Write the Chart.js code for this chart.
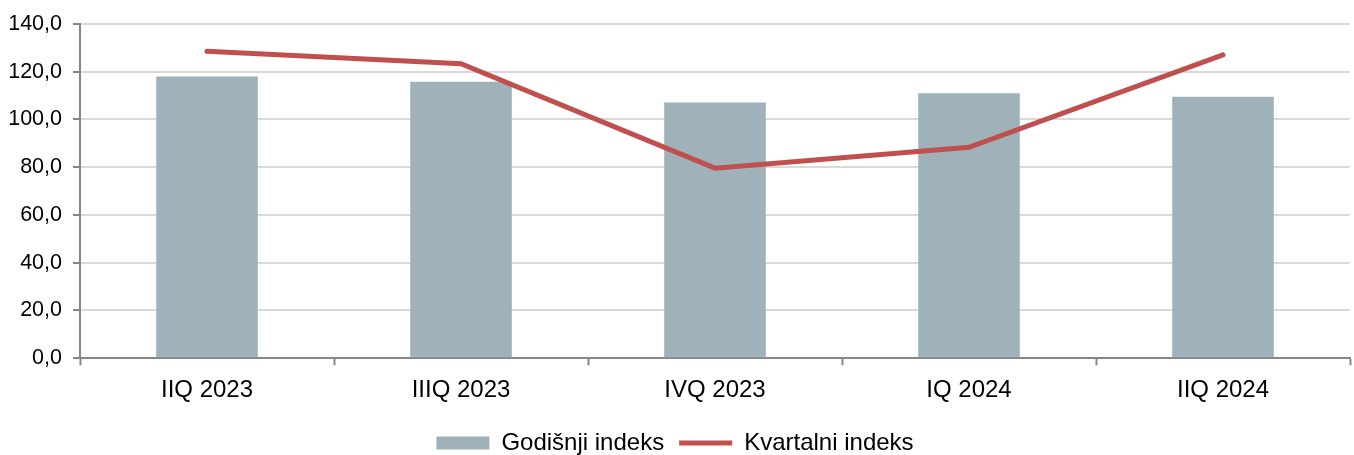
<!DOCTYPE html>
<html>
<head>
<meta charset="utf-8">
<script src="https://cdn.jsdelivr.net/npm/chart.js@4/dist/chart.umd.min.js"></script>
<style>
  html, body { margin: 0; padding: 0; background: #fff; }
  #wrap { width: 1354px; height: 455px; }
</style>
</head>
<body>
<div id="wrap"><canvas id="barChart"></canvas></div>
<script>
// values
const labels = ['IIQ 2023', 'IIIQ 2023', 'IVQ 2023', 'IQ 2024', 'IIQ 2024'];
const godisnji = [118.0, 115.8, 107.1, 111.0, 109.5];
const kvartalni = [128.5, 123.3, 79.6, 88.3, 127.0];
const yTicks = [0, 20, 40, 60, 80, 100, 120, 140];

const fontName = "'Liberation Sans', Arial, sans-serif";

const ctx = document.getElementById('barChart').getContext('2d');

const chart = new Chart(ctx, {
    type: 'bar',
    data: {
        labels: labels,
        datasets: [
            {
                type: 'line',
                label: 'Kvartalni indeks',
                data: kvartalni,
                borderColor: '#C0504D',
                backgroundColor: '#C0504D',
                borderWidth: 5,
                pointRadius: 0,
                borderCapStyle: 'round',
                borderJoinStyle: 'miter',
                order: 0
            },
            {
                label: 'Godišnji indeks',
                data: godisnji,
                backgroundColor: '#A0B2B9',
                categoryPercentage: 1,
                barPercentage: 0.4,
                order: 1
            }
        ]
    },
    options: {
        responsive: true,
        maintainAspectRatio: false,
        animation: false,
        layout: { padding: { left: 0, right: 4, top: 20, bottom: -10 } },
        plugins: {
            tooltip: { enabled: false },
            legend: {
                position: 'bottom',
                labels: {
                    usePointStyle: true,
                    pointStyleWidth: 53,
                    boxHeight: 13,
                    padding: 15,
                    color: '#000',
                    font: { family: fontName, size: 24 },
                    generateLabels: function(chart) {
                        // bar first, then line, as in the original legend
                        const ds = chart.data.datasets;
                        return [1, 0].map(function(i) {
                            return {
                                text: ds[i].label,
                                fillStyle: ds[i].backgroundColor,
                                strokeStyle: ds[i].type === 'line' ? ds[i].borderColor : ds[i].backgroundColor,
                                lineWidth: ds[i].type === 'line' ? 5 : 0,
                                lineCap: 'butt',
                                pointStyle: ds[i].type === 'line' ? 'line' : 'rect',
                                datasetIndex: i,
                                hidden: false
                            };
                        });
                    }
                }
            }
        },
        scales: {
            x: {
                offset: true,
                border: { color: '#868686', width: 2 },
                grid: {
                    offset: true,
                    drawOnChartArea: false,
                    drawTicks: true,
                    tickLength: 7,
                    tickColor: '#868686',
                    tickWidth: 2
                },
                ticks: {
                    color: '#000',
                    padding: 11,
                    font: { family: fontName, size: 24 }
                }
            },
            y: {
                min: 0,
                max: 140,
                afterBuildTicks: function(axis) {
                    axis.ticks = yTicks.map(function(v) { return { value: v }; });
                },
                afterFit: function(axis) { axis.width = 80; },
                border: { color: '#868686', width: 2 },
                grid: {
                    color: '#D9D9D9',
                    lineWidth: 2,
                    tickLength: 7,
                    tickColor: '#868686',
                    tickWidth: 2
                },
                ticks: {
                    color: '#000',
                    padding: 11,
                    font: { family: fontName, size: 21.5 },
                    callback: function(v) { return v.toFixed(1).replace('.', ','); }
                }
            }
        }
    }
});
</script>
</body>
</html>
